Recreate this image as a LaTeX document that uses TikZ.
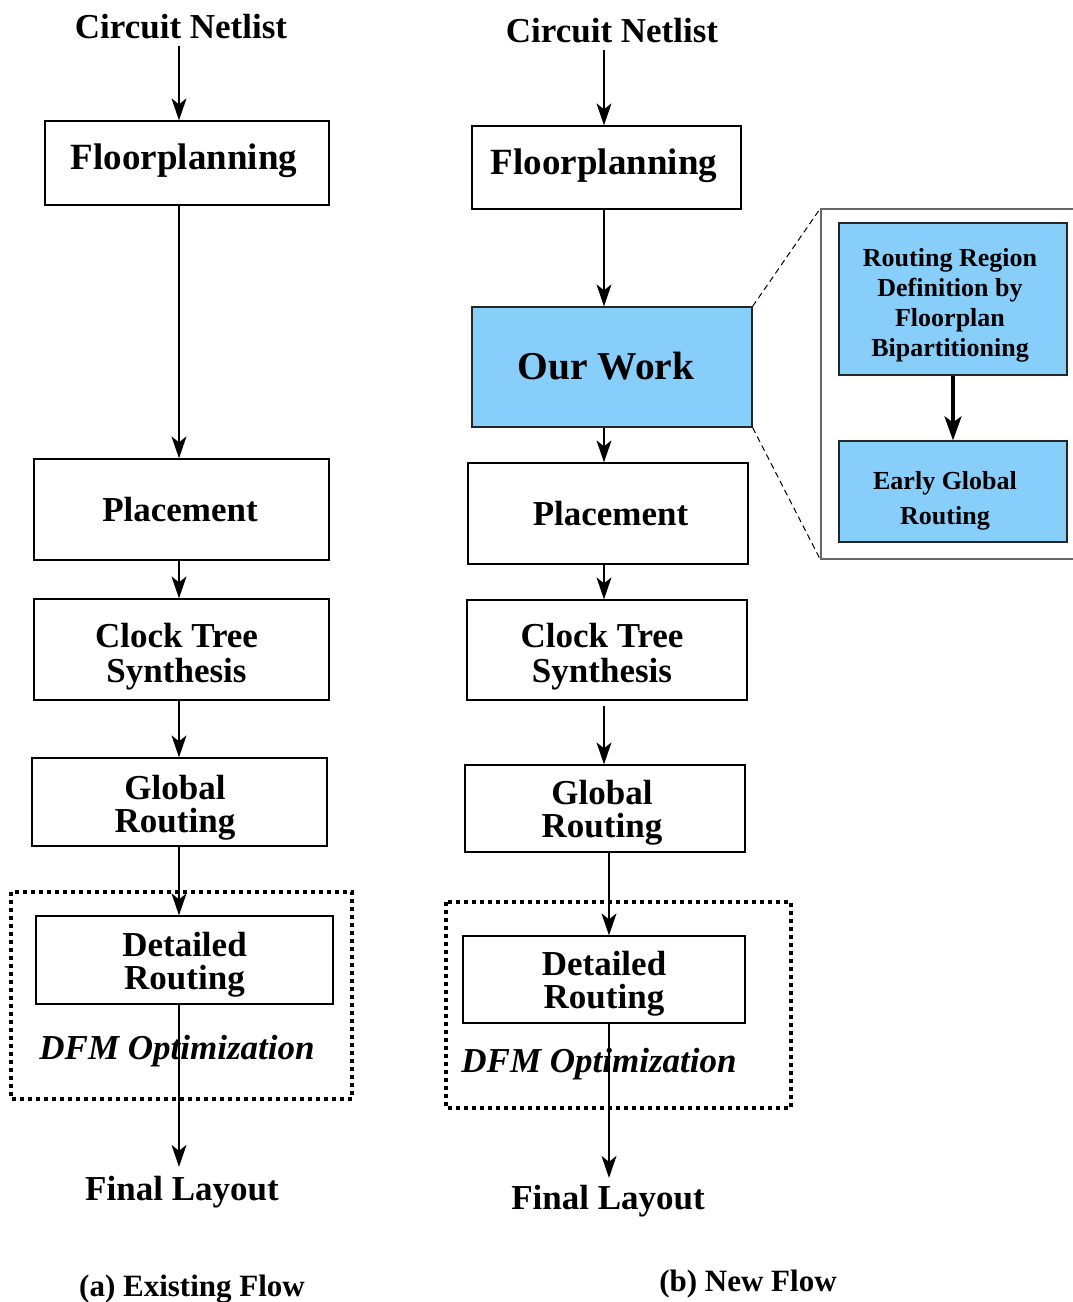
\documentclass[tikz,border=0pt]{standalone}
\usepackage{fontspec}
\setmainfont{Liberation Serif}
\usetikzlibrary{arrows.meta}

\definecolor{workblue}{HTML}{87CEFA}
\definecolor{panelgray}{HTML}{666666}

\newcommand{\fsz}[2]{\fontsize{#1}{#2}\selectfont}

\begin{document}
\begin{tikzpicture}[x=1pt,y=-1pt,
  every node/.style={inner sep=0pt, align=center},
  stage/.style={draw, line width=1.3pt},
  work/.style={stage, fill=workblue, draw=black!85},
  sub/.style={draw=black!85, line width=1.3pt, fill=workblue},
  stxt/.style={font=\bfseries\fsz{35}{33}},
  subtxt/.style={font=\bfseries\fsz{26}{30}},
  term/.style={font=\bfseries\fsz{35}{35}, inner sep=6pt},
  dfm/.style={font=\bfseries\itshape\fsz{35}{35}},
  caption/.style={font=\bfseries\fsz{31}{31}},
  arr/.style={line width=1.3pt, -{Stealth[length=22pt,width=15pt,inset=6pt]}},
  thickarr/.style={line width=3.5pt, -{Stealth[length=24pt,width=17pt,inset=6pt]}},
  dfmframe/.style={line width=4pt, dash pattern=on 4pt off 4pt},
  zoomline/.style={line width=1pt, dash pattern=on 6pt off 4pt},
]
\useasboundingbox (0,0) rectangle (1072,1302);

% ---------------- (a) existing flow ----------------
\coordinate (ax) at (179,0);
\node[term] (cnA) at (181,27) {Circuit Netlist};

\node[stage, minimum width=284pt, minimum height=84pt] (fpA) at (187,163) {};
\node[font=\bfseries\fsz{37}{37}, xshift=-3pt, yshift=2pt] (fpA-t) at (fpA) {Floorplanning};

\node[stage, minimum width=295pt, minimum height=101pt] (plA) at (181.5,509.5) {};
\node[stxt, xshift=-1.5pt] (plA-t) at (plA) {Placement};

\node[stage, minimum width=295pt, minimum height=101pt] (ctA) at (181.5,649.5) {};
\node[font=\bfseries\fsz{35}{35}, xshift=-5pt, yshift=-7pt] (ctA-t) at (ctA) {Clock Tree\\Synthesis};

\node[stage, minimum width=295pt, minimum height=88pt] (grA) at (179.5,802) {};
\node[stxt, xshift=-4.5pt, yshift=-5.5pt] (grA-t) at (grA) {Global\\Routing};

\draw[dfmframe] (11,892) rectangle (352,1099);
\node[stage, minimum width=297pt, minimum height=88pt] (drA) at (184.5,960) {};
\node[stxt, yshift=-4.5pt] (drA-t) at (drA) {Detailed\\Routing};

\node[dfm] (dfmA) at (177,1051) {DFM Optimization};
\node[term, inner sep=9pt] (flA) at (182,1192) {Final Layout};
\node[caption] (capA) at (192,1289) {(a) Existing Flow};

\draw[arr] (cnA.south -| ax) -- (fpA.north -| ax);
\draw[arr] (fpA.south -| ax) -- (plA.north -| ax);
\draw[arr] (plA.south -| ax) -- (ctA.north -| ax);
\draw[arr] (ctA.south -| ax) -- (grA.north -| ax);
\draw[arr] (grA.south -| ax) -- (drA.north -| ax);
\draw[arr] (drA.south -| ax) -- (flA.north -| ax);

% ---------------- (b) new flow ----------------
\coordinate (bx) at (604,0);
\coordinate (cx) at (609,0);
\node[term] (cnB) at (612,31) {Circuit Netlist};

\node[stage, minimum width=269pt, minimum height=83pt] (fpB) at (606.5,167.5) {};
\node[font=\bfseries\fsz{37}{37}, xshift=-2.5pt, yshift=2pt] (fpB-t) at (fpB) {Floorplanning};

\node[work, minimum width=280pt, minimum height=120pt] (owB) at (612,367) {};
\node[font=\bfseries\fsz{39.5}{39.5}, xshift=-6pt, yshift=1pt] (owB-t) at (owB) {Our Work};

\node[stage, minimum width=280pt, minimum height=101pt] (plB) at (608,513.5) {};
\node[stxt, xshift=2.5pt] (plB-t) at (plB) {Placement};

\node[stage, minimum width=280pt, minimum height=100pt] (ctB) at (607,650) {};
\node[font=\bfseries\fsz{35}{35}, xshift=-5pt, yshift=-7pt] (ctB-t) at (ctB) {Clock Tree\\Synthesis};

\node[stage, minimum width=280pt, minimum height=87pt] (grB) at (605,808.5) {};
\node[stxt, xshift=-3pt, yshift=-4pt] (grB-t) at (grB) {Global\\Routing};

\draw[dfmframe] (446,902) rectangle (791,1108);
\node[stage, minimum width=282pt, minimum height=87pt] (drB) at (604,979.5) {};
\node[stxt, yshift=-4pt] (drB-t) at (drB) {Detailed\\Routing};

\node[dfm] (dfmB) at (599,1064) {DFM Optimization};
\node[term, inner sep=7pt] (flB) at (608,1201) {Final Layout};
\node[caption] (capB) at (748,1284) {(b) New Flow};

\draw[arr] (cnB.south -| bx) -- (fpB.north -| bx);
\draw[arr] (fpB.south -| bx) -- (owB.north -| bx);
\draw[arr] (owB.south -| bx) -- (plB.north -| bx);
\draw[arr] (plB.south -| bx) -- (ctB.north -| bx);
\draw[arr, shorten <=5pt] (ctB.south -| bx) -- (grB.north -| bx);
\draw[arr] (grB.south -| cx) -- (drB.north -| cx);
\draw[arr] (drB.south -| cx) -- (flB.north -| cx);

% ---------------- detail of "Our Work" ----------------
\node[draw=panelgray, line width=1.3pt, minimum width=259pt, minimum height=350pt]
  (panel) at (950.5,384) {};
\node[sub, minimum width=228pt, minimum height=152pt] (rrB) at (953,299) {};
\node[subtxt, xshift=-3pt, yshift=-6.5pt] (rrB-t) at (rrB)
  {Routing Region\\Definition by\\Floorplan\\Bipartitioning};
\node[sub, minimum width=228pt, minimum height=101pt] (egB) at (953,491.5) {};
\node[font=\bfseries\fsz{26}{35}, xshift=-8pt, yshift=-9pt] (egB-t) at (egB)
  {Early Global\\Routing};
\draw[thickarr] (rrB.south) -- (egB.north);

\draw[zoomline] (owB.north east) -- (panel.north west);
\draw[zoomline] (owB.south east) -- (panel.south west);
\end{tikzpicture}
\end{document}
